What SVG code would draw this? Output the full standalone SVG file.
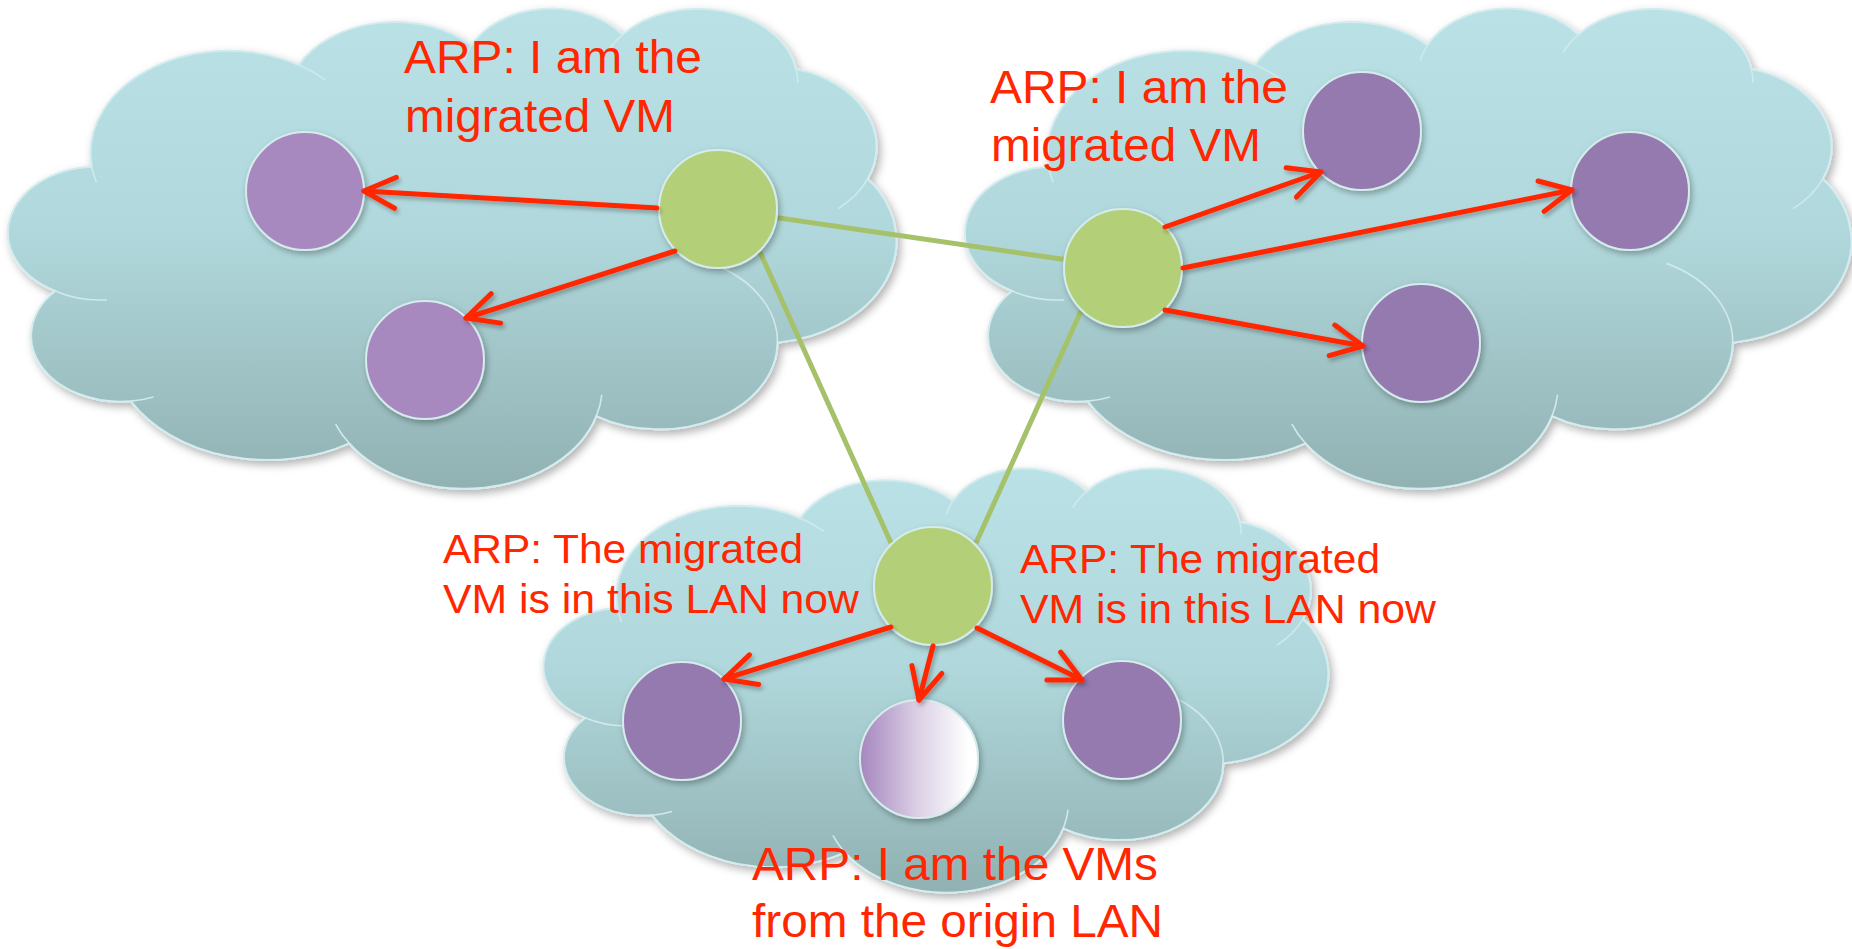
<svg xmlns="http://www.w3.org/2000/svg" width="1852" height="949" viewBox="0 0 1852 949">
<style>
.cloud { fill: url(#cloudGrad); stroke: #D3ECEE; stroke-width: 2; }
.cloudArc { fill: none; stroke: #D0E9EB; stroke-width: 1.6; }
.vm { stroke: #D6ECEC; stroke-width: 2; }
.vmA { fill: #A889BF; }
.vmB { fill: #947AAF; }
.vmFade { fill: url(#fadeGrad); }
.sw { fill: #B3D078; }
.link { stroke: #A5C26B; stroke-width: 5; fill: none; }
.arp { stroke: #FF2600; stroke-width: 5; stroke-linecap: round; fill: none; marker-end: url(#arrowHead); }
.lbl { font-family: "Liberation Sans", Arial, sans-serif; fill: #FF2600; }
.big { font-size: 46px; }
.small { font-size: 41px; }
</style>
<defs>
<linearGradient id="cloudGrad" x1="0" y1="0" x2="0" y2="1">
<stop offset="0" stop-color="#BAE2E6"/>
<stop offset="0.45" stop-color="#B1D9DD"/>
<stop offset="1" stop-color="#91B1B2"/>
</linearGradient>
<linearGradient id="fadeGrad" x1="0" y1="0" x2="1" y2="0">
<stop offset="0" stop-color="#A586BE"/>
<stop offset="0.5" stop-color="#DCD1E6"/>
<stop offset="0.92" stop-color="#FFFFFF"/>
</linearGradient>
<filter id="cloudShadow" x="-5%" y="-5%" width="112%" height="115%">
<feDropShadow dx="3" dy="4" stdDeviation="4" flood-color="#000" flood-opacity="0.3"/>
</filter>
<filter id="nodeShadow" x="-20%" y="-20%" width="150%" height="150%">
<feDropShadow dx="2" dy="3" stdDeviation="3" flood-color="#000" flood-opacity="0.3"/>
</filter>
<filter id="arrowShadow" x="-10%" y="-30%" width="120%" height="160%">
<feDropShadow dx="2" dy="3" stdDeviation="2" flood-color="#000" flood-opacity="0.28"/>
</filter>
<path id="cloudShape" vector-effect="non-scaling-stroke" d="M3900,14370 A6753,9190 0 0 1 14005,5202 A5333,7267 0 0 1 22457,3434 A4365,5945 0 0 1 29836,2485 A4857,6595 0 0 1 38320,5583 A5333,7273 0 0 1 41820,15467 A6775,9220 0 0 1 37406,30209 A5785,7867 0 0 1 28557,36819 A6752,9215 0 0 1 16481,39269 A7720,10543 0 0 1 5804,35475 A4360,5918 0 0 1 2111,25556 A4345,5945 0 0 1 3900,14370 Z"/>
<path id="cloudArcs" vector-effect="non-scaling-stroke" d="M4645,26353 A4345,5945 0 0 1 2111,25556 M6913,35093 A4360,5918 0 0 1 5804,35475 M16481,39269 A6752,9215 0 0 1 15814,37531 M28824,34910 A6752,9215 0 0 1 28557,36819 M34154,23074 A5785,7867 0 0 1 37406,30209 M41820,15467 A5333,7273 0 0 1 40371,18144 M38320,5583 A4857,6595 0 0 1 38396,6847 M29092,4101 A4857,6595 0 0 1 29836,2485 M22099,4823 A4365,5945 0 0 1 22457,3434 M14005,5202 A6753,9190 0 0 1 15307,6553 M4127,15789 A6753,9190 0 0 1 3900,14370"/>
<marker id="arrowHead" markerUnits="strokeWidth" orient="auto" refX="0" refY="0" markerWidth="10" markerHeight="10" overflow="visible">
<path d="M-6.3,-3.1 L0,0 L-6.3,3.1" fill="none" stroke="#FF2600" stroke-width="1" stroke-linecap="round" stroke-linejoin="round"/>
</marker>
</defs>

<g id="lan-left">
<g filter="url(#cloudShadow)"><use href="#cloudShape" class="cloud" transform="translate(12 7) scale(0.020463 0.0111111)"/></g>
<use href="#cloudArcs" class="cloudArc" transform="translate(12 7) scale(0.020463 0.0111111)"/>
</g>
<g id="lan-right">
<g filter="url(#cloudShadow)"><use href="#cloudShape" class="cloud" transform="translate(969 7) scale(0.020417 0.0111111)"/></g>
<use href="#cloudArcs" class="cloudArc" transform="translate(969 7) scale(0.020417 0.0111111)"/>
</g>
<g id="lan-bottom">
<g filter="url(#cloudShadow)"><use href="#cloudShape" class="cloud" transform="translate(547 467) scale(0.0180787 0.0098148)"/></g>
<use href="#cloudArcs" class="cloudArc" transform="translate(547 467) scale(0.0180787 0.0098148)"/>
</g>

<g id="links">
<line class="link" x1="718" y1="209" x2="1123" y2="268"/>
<line class="link" x1="760" y1="252" x2="891" y2="543"/>
<line class="link" x1="1081" y1="311" x2="976" y2="543"/>
</g>

<g id="vm-left-1" filter="url(#nodeShadow)"><circle class="vm vmA" cx="305" cy="191" r="59"/></g>
<g id="vm-left-2" filter="url(#nodeShadow)"><circle class="vm vmA" cx="425" cy="360" r="59"/></g>
<g id="switch-left" filter="url(#nodeShadow)"><circle class="vm sw" cx="718" cy="209" r="59"/></g>
<g id="switch-right" filter="url(#nodeShadow)"><circle class="vm sw" cx="1123" cy="268" r="59"/></g>
<g id="vm-right-1" filter="url(#nodeShadow)"><circle class="vm vmB" cx="1362" cy="131" r="59"/></g>
<g id="vm-right-2" filter="url(#nodeShadow)"><circle class="vm vmB" cx="1630" cy="191" r="59"/></g>
<g id="vm-right-3" filter="url(#nodeShadow)"><circle class="vm vmB" cx="1421" cy="343" r="59"/></g>
<g id="switch-bottom" filter="url(#nodeShadow)"><circle class="vm sw" cx="933" cy="586" r="59"/></g>
<g id="vm-bottom-1" filter="url(#nodeShadow)"><circle class="vm vmB" cx="682" cy="721" r="59"/></g>
<g id="vm-migrated" filter="url(#nodeShadow)"><circle class="vm vmFade" cx="919" cy="759" r="59"/></g>
<g id="vm-bottom-2" filter="url(#nodeShadow)"><circle class="vm vmB" cx="1122" cy="720" r="59"/></g>

<g id="arp-arrows" filter="url(#arrowShadow)">
<line class="arp" x1="657" y1="208" x2="364" y2="191"/>
<line class="arp" x1="675" y1="251" x2="466" y2="318"/>
<line class="arp" x1="1165" y1="227" x2="1321" y2="172"/>
<line class="arp" x1="1183" y1="268" x2="1572" y2="190"/>
<line class="arp" x1="1165" y1="310" x2="1363" y2="346"/>
<line class="arp" x1="891" y1="627" x2="724" y2="679"/>
<line class="arp" x1="933" y1="646" x2="919" y2="700"/>
<line class="arp" x1="977" y1="628" x2="1082" y2="680"/>
</g>

<g id="labels">
<text class="lbl big" x="404" y="73" textLength="298" lengthAdjust="spacingAndGlyphs">ARP: I am the</text>
<text class="lbl big" x="405" y="132" textLength="270" lengthAdjust="spacingAndGlyphs">migrated VM</text>
<text class="lbl big" x="990" y="103" textLength="298" lengthAdjust="spacingAndGlyphs">ARP: I am the</text>
<text class="lbl big" x="991" y="161" textLength="270" lengthAdjust="spacingAndGlyphs">migrated VM</text>
<text class="lbl small" x="443" y="563" textLength="360" lengthAdjust="spacingAndGlyphs">ARP: The migrated</text>
<text class="lbl small" x="443" y="613" textLength="416" lengthAdjust="spacingAndGlyphs">VM is in this LAN now</text>
<text class="lbl small" x="1020" y="573" textLength="360" lengthAdjust="spacingAndGlyphs">ARP: The migrated</text>
<text class="lbl small" x="1020" y="623" textLength="416" lengthAdjust="spacingAndGlyphs">VM is in this LAN now</text>
<text class="lbl big" x="752" y="880" textLength="406" lengthAdjust="spacingAndGlyphs">ARP: I am the VMs</text>
<text class="lbl big" x="752" y="937" textLength="411" lengthAdjust="spacingAndGlyphs">from the origin LAN</text>
</g>
</svg>
